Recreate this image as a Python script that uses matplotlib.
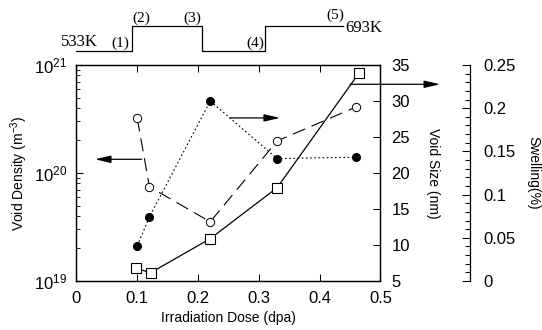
import matplotlib
matplotlib.use("Agg")
import matplotlib.pyplot as plt
import matplotlib.transforms as mtransforms
from matplotlib.ticker import MultipleLocator, LogLocator, NullFormatter

plt.rcParams['font.family'] = ['Liberation Sans', 'DejaVu Sans']
plt.rcParams['mathtext.default'] = 'regular'
plt.rcParams['lines.scale_dashes'] = False

# ---- data ----
dose = [0.10, 0.12, 0.22, 0.33, 0.46]
dose_sq = [0.098, 0.122, 0.22, 0.33, 0.465]
void_density = [3.2e20, 7.45e19, 3.53e19, 1.98e20, 4.09e20]   # m^-3
void_size = [9.9, 13.9, 30.0, 22.0, 22.2]                       # nm
swelling = [0.0147, 0.0096, 0.049, 0.108, 0.241]                # %

# temperature history (schematic) along dose axis
temp_x = [0.0, 0.092, 0.092, 0.207, 0.207, 0.31, 0.31, 0.439]
temp_level = [0, 0, 1, 1, 0, 0, 1, 1]

xticks = [0, 0.1, 0.2, 0.3, 0.4, 0.5]
xticklabels = ['0', '0.1', '0.2', '0.3', '0.4', '0.5']
size_ticks = [5, 10, 15, 20, 25, 30, 35]
swell_ticks = [0, 0.05, 0.1, 0.15, 0.2, 0.25]
swell_ticklabels = ['0', '0.05', '0.1', '0.15', '0.2', '0.25']

fig = plt.figure(figsize=(5.42, 3.30), dpi=100)
ax = fig.add_axes([0.1411, 0.1485, 0.5609, 0.6545])

ax.set_yscale('log')
ax.set_xlim(0, 0.5)
ax.set_ylim(1e19, 1e21)
ax.set_xticks(xticks)
ax.set_xticklabels(xticklabels)
ax.yaxis.set_major_locator(LogLocator(base=10, numticks=5))
ax.yaxis.set_minor_locator(LogLocator(base=10, subs=range(2, 10), numticks=20))
ax.yaxis.set_minor_formatter(NullFormatter())
ax.tick_params(axis='x', which='both', direction='in', top=True, length=5, width=0.75,
               labelsize=12, pad=7)
ax.tick_params(axis='y', which='major', direction='in', right=False, length=5, width=0.75,
               labelsize=12, pad=7)
ax.tick_params(axis='y', which='minor', direction='in', right=False, length=3, width=0.6)
for s in ax.spines.values():
    s.set_linewidth(0.9)

ax.set_xlabel('Irradiation Dose (dpa)', fontsize=10)
ax.xaxis.set_label_coords(0.5, -0.14)
ax.set_ylabel('Void Density (m$^{-3}$)', fontsize=10)
ax.yaxis.set_label_coords(-0.153, 0.5)

# void density: open circles, dashed
ax.plot(dose, void_density, color='black', lw=0.8, dashes=[9.5, 5],
        marker='o', ms=6, mfc='white', mec='black', mew=0.7, zorder=3)

# void size axis
ax2 = ax.twinx()
ax2.set_ylim(5, 35)
ax2.set_yticks(size_ticks)
ax2.tick_params(axis='y', direction='in', length=5, width=0.75, labelsize=12, pad=8)
ax2.set_ylabel('Void Size (nm)', fontsize=10, rotation=270, va='center')
ax2.yaxis.set_label_coords(1.173, 0.5)
for s in ax2.spines.values():
    s.set_linewidth(0.9)
ax2.plot(dose, void_size, color='black', lw=0.8, dashes=[1.2, 1.8],
         marker='o', ms=5.5, mfc='black', mec='black', zorder=3)

# swelling axis
ax3 = ax.twinx()
ax3.set_ylim(0, 0.25)
ax3.spines['right'].set_position(('axes', 1.296))
for k in ['top', 'bottom', 'left']:
    ax3.spines[k].set_visible(False)
ax3.spines['right'].set_linewidth(0.9)
ax3.set_yticks(swell_ticks)
ax3.set_yticklabels(swell_ticklabels)
ax3.yaxis.set_minor_locator(MultipleLocator(0.01))
ax3.tick_params(axis='y', which='major', direction='in', length=6, width=0.75,
                labelsize=12, pad=9)
ax3.tick_params(axis='y', which='minor', direction='in', length=3.8, width=0.75)
ax3.set_ylabel('Swelling(%)', fontsize=10, rotation=270, va='center')
ax3.yaxis.set_label_coords(1.502, 0.5)
ax3.plot(dose_sq, swelling, color='black', lw=0.9, marker='s', ms=6.5,
         mfc='white', mec='black', mew=0.8, clip_on=False, zorder=3)

# arrows
aprops = dict(arrowstyle='-|>,head_length=0.95,head_width=0.22', mutation_scale=10,
              lw=0.9, color='black', shrinkA=0, shrinkB=0)
ax.annotate('', xy=(0.0304, 1.34e20), xytext=(0.1072, 1.34e20), arrowprops=aprops)
ax2.annotate('', xy=(0.3347, 27.65), xytext=(0.2525, 27.65), arrowprops=aprops)
ax3.annotate('', xy=(0.598, 0.2277), xytext=(0.45, 0.2277), arrowprops=aprops,
             annotation_clip=False)

# temperature history on top
trans = mtransforms.blended_transform_factory(ax.transData, ax.transAxes)
ty = [1.063 + 0.117 * lv for lv in temp_level]
ax.plot(temp_x, ty, color='black', lw=0.9, transform=trans, clip_on=False)
serif = dict(family=['Liberation Serif', 'DejaVu Serif'], transform=trans)
ax.text(0.0359, 1.106, '533K', ha='right', va='center', fontsize=12, **serif)
ax.text(0.0729, 1.100, '(1)', ha='center', va='center', fontsize=11, **serif)
ax.text(0.107, 1.216, '(2)', ha='center', va='center', fontsize=11, **serif)
ax.text(0.190, 1.216, '(3)', ha='center', va='center', fontsize=11, **serif)
ax.text(0.2936, 1.100, '(4)', ha='center', va='center', fontsize=11, **serif)
ax.text(0.4265, 1.230, '(5)', ha='center', va='center', fontsize=11, **serif)
ax.text(0.4416, 1.172, '693K', ha='left', va='center', fontsize=12, **serif)

fig.savefig('out.png', dpi=100)
